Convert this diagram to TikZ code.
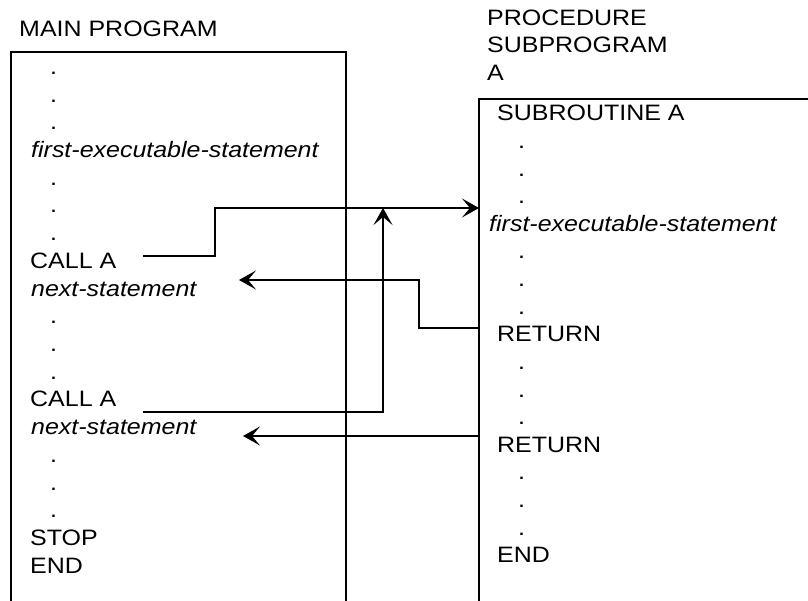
\documentclass[tikz,border=0pt]{standalone}
\usepackage{fontspec}
\setmainfont{Liberation Sans}[FakeStretch=1.12]
\usetikzlibrary{arrows.meta}
\tikzset{txt/.style={anchor=base west,inner sep=0pt,font=\fontsize{22.3}{26}\selectfont},
	 stmt/.style={txt,font=\fontsize{22.3}{26}\selectfont\itshape},
	 boxside/.style={line width=1.2pt},
	 flow/.style={line width=1.3pt,-{Stealth[length=17pt,width=19pt,inset=8pt]}}
	 }
\begin{document}
\begin{tikzpicture}[x=1pt,y=-1pt] % main program calling subroutine A twice
	\useasboundingbox (0,0) rectangle (808,601);
	% headings
	\node[txt] (mainlbl) at (19,36.7) {MAIN PROGRAM};
	\node[txt] (proc1) at (487,25.3) {PROCEDURE};
	\node[txt] (proc2) at (487,53) {SUBPROGRAM};
	\node[txt] (proc3) at (487,80.5) {A};
	% the two frames, open at the bottom
	\draw[boxside] (11,601) -- (11,52) -- (346,52) -- (346,601);
	\draw[boxside] (479,601) -- (479,99) -- (808,99);
	% main program
	\node[txt] (m0) at (50,74.5) {.}; \node[txt] (m1) at (50,102.2) {.}; \node[txt] (m2) at (50,129.9) {.};
	\node[stmt] (mfirst) at (31,157.6) {first-executable-statement};
	\node[txt] (m4) at (50,185.3) {.}; \node[txt] (m5) at (50,213) {.}; \node[txt] (m6) at (50,240.7) {.};
	\node[txt] (call1) at (30,268.4) {CALL A};
	\node[stmt] (next1) at (31,296.1) {next-statement};
	\node[txt] (m9) at (50,323.8) {.}; \node[txt] (m10) at (50,351.5) {.}; \node[txt] (m11) at (50,379.2) {.};
	\node[txt] (call2) at (30,406.9) {CALL A};
	\node[stmt] (next2) at (31,434.6) {next-statement};
	\node[txt] (m14) at (50,462.3) {.}; \node[txt] (m15) at (50,490) {.}; \node[txt] (m16) at (50,517.7) {.};
	\node[txt] (stop) at (30,545.4) {STOP};
	\node[txt] (mend) at (30,573.1) {END};
	% subroutine A
	\node[txt] (sub) at (497,121) {SUBROUTINE A};
	\node[txt] (s1) at (518,148.6) {.}; \node[txt] (s2) at (518,176.2) {.}; \node[txt] (s3) at (518,203.8) {.};
	\node[stmt] (sfirst) at (489,231.4) {first-executable-statement};
	\node[txt] (s5) at (518,259) {.}; \node[txt] (s6) at (518,286.6) {.}; \node[txt] (s7) at (518,314.2) {.};
	\node[txt] (ret1) at (497,341.8) {RETURN};
	\node[txt] (s9) at (518,369.4) {.}; \node[txt] (s10) at (518,397) {.}; \node[txt] (s11) at (518,424.6) {.};
	\node[txt] (ret2) at (497,452.2) {RETURN};
	\node[txt] (s13) at (518,479.8) {.}; \node[txt] (s14) at (518,507.4) {.}; \node[txt] (s15) at (518,535) {.};
	\node[txt] (send) at (497,562.6) {END};
	% transfer of control
	\coordinate (callout1) at (143,256); \coordinate (entry) at (479,208);
	\coordinate (callout2) at (143,412); \coordinate (merge) at (383,208);
	\coordinate (retout1) at (479,328); \coordinate (back1) at (239,280);
	\coordinate (retout2) at (479,436); \coordinate (back2) at (243,436);
	\draw[flow] (callout1) -- ++(72,0) |- (entry);
	\draw[flow] (callout2) -| (merge);
	\draw[flow] (retout1) -- ++(-60,0) |- (back1);
	\draw[flow] (retout2) -- (back2);
\end{tikzpicture}
\end{document}
